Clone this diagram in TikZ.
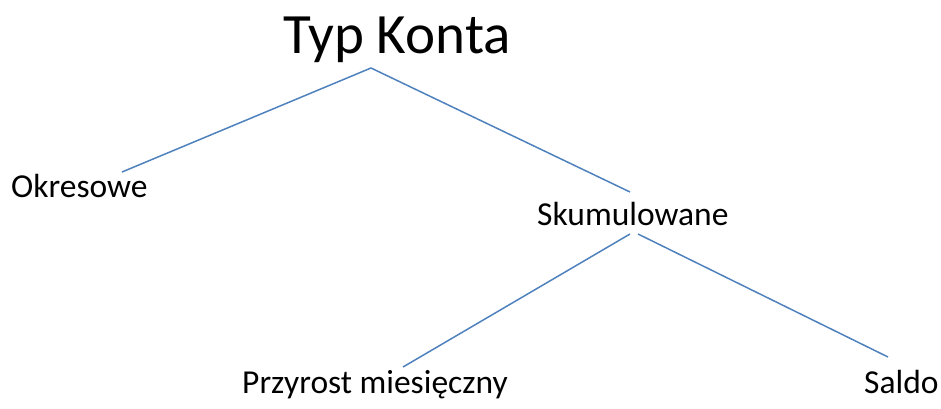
\documentclass[tikz,border=0pt]{standalone}
\usepackage{fontspec}
\setmainfont{Carlito}
\definecolor{linkblue}{RGB}{79,129,189}
\begin{document}
\begin{tikzpicture}[x=1pt,y=-1pt,
  lbl/.style={anchor=base west,inner sep=0pt,font=\fontsize{33.5}{36}\selectfont},
  ttl/.style={anchor=base west,inner sep=0pt,font=\fontsize{57}{62}\selectfont},
  link/.style={draw=linkblue,line width=1.5pt}]
\useasboundingbox (0,0) rectangle (941,408);
\node[ttl] (root) at (283,53) {Typ Konta};
\node[lbl] (okr) at (11,197) {Okresowe};
\node[lbl] (sku) at (537,225) {Skumulowane};
\node[lbl] (prz) at (242,393) {Przyrost miesięczny};
\node[lbl] (sal) at (864,393) {Saldo};
\coordinate (rootA) at (371,68);
\coordinate (okrA) at (122,172);
\coordinate (skuA) at (630,192);
\coordinate (skuL) at (630,234);
\coordinate (skuR) at (638,234);
\coordinate (przA) at (403,367);
\coordinate (salA) at (888,357);
\draw[link] (okrA) -- (rootA) -- (skuA);
\draw[link] (skuL) -- (przA);
\draw[link] (skuR) -- (salA);
\end{tikzpicture}
\end{document}
